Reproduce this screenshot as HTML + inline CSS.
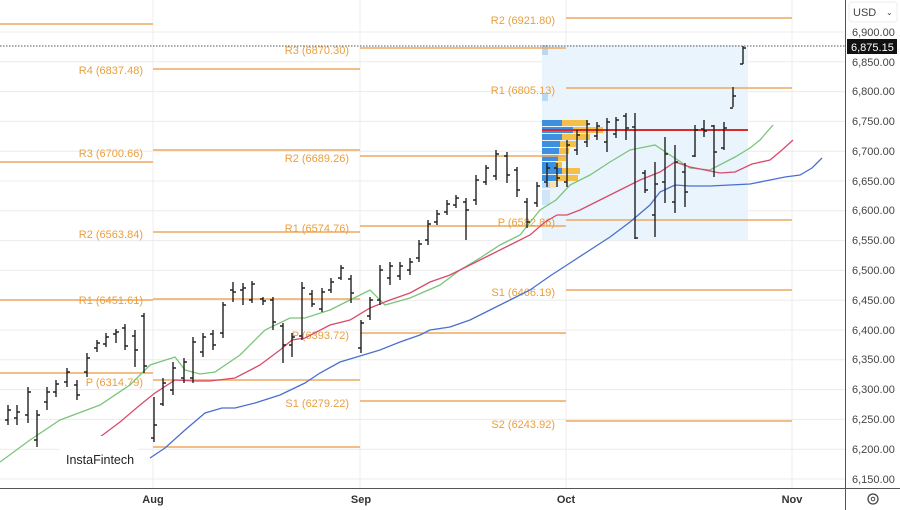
<!DOCTYPE html>
<html><head><meta charset="utf-8"><style>
html,body{margin:0;padding:0;background:#fff;}
svg{display:block;font-family:"Liberation Sans",sans-serif;}
.pl{fill:#e8a040;font-size:11px;text-anchor:end;}
.ax{fill:#444;font-size:11px;}
</style></head><body>
<svg width="900" height="510" viewBox="0 0 900 510" xmlns="http://www.w3.org/2000/svg">
<rect width="900" height="510" fill="#fff"/>
<g stroke="#ececec" stroke-width="1">
<line x1="0" y1="32" x2="845" y2="32"/><line x1="0" y1="61.8" x2="845" y2="61.8"/><line x1="0" y1="91.6" x2="845" y2="91.6"/><line x1="0" y1="121.4" x2="845" y2="121.4"/><line x1="0" y1="151.2" x2="845" y2="151.2"/><line x1="0" y1="181" x2="845" y2="181"/><line x1="0" y1="210.8" x2="845" y2="210.8"/><line x1="0" y1="240.6" x2="845" y2="240.6"/><line x1="0" y1="270.4" x2="845" y2="270.4"/><line x1="0" y1="300.2" x2="845" y2="300.2"/><line x1="0" y1="330" x2="845" y2="330"/><line x1="0" y1="359.8" x2="845" y2="359.8"/><line x1="0" y1="389.6" x2="845" y2="389.6"/><line x1="0" y1="419.4" x2="845" y2="419.4"/><line x1="0" y1="449.2" x2="845" y2="449.2"/><line x1="0" y1="479" x2="845" y2="479"/>
<line x1="153" y1="0" x2="153" y2="488"/><line x1="360" y1="0" x2="360" y2="488"/><line x1="566" y1="0" x2="566" y2="488"/><line x1="792" y1="0" x2="792" y2="488"/>
</g>
<rect x="542" y="45" width="206" height="195" fill="#eaf4fd"/>
<!-- volume profile -->
<g>
<rect x="542" y="120" width="20" height="6" fill="#3d8fe0"/><rect x="562" y="120" width="26" height="6" fill="#f5c04a"/>
<rect x="542" y="127" width="31" height="6" fill="#3d8fe0"/><rect x="573" y="127" width="30" height="6" fill="#f5c04a"/>
<rect x="542" y="134" width="20" height="6" fill="#3d8fe0"/><rect x="562" y="134" width="28" height="6" fill="#f5c04a"/>
<rect x="542" y="141" width="18" height="6" fill="#3d8fe0"/><rect x="560" y="141" width="16" height="6" fill="#f5c04a"/>
<rect x="542" y="148" width="17" height="6" fill="#3d8fe0"/><rect x="559" y="148" width="10" height="6" fill="#f5c04a"/>
<rect x="542" y="155" width="16" height="6" fill="#3d8fe0"/><rect x="558" y="155" width="8" height="6" fill="#f5c04a"/>
<rect x="542" y="162" width="14" height="6" fill="#3d8fe0"/><rect x="556" y="162" width="6" height="6" fill="#f5c04a"/>
<rect x="542" y="168" width="20" height="6" fill="#3d8fe0"/><rect x="562" y="168" width="18" height="6" fill="#f5c04a"/>
<rect x="542" y="175" width="14" height="6" fill="#3d8fe0"/><rect x="556" y="175" width="22" height="6" fill="#f5c04a"/>
<rect x="542" y="182" width="8" height="6" fill="#b8d8f5"/><rect x="550" y="182" width="6" height="6" fill="#fbe3a8"/>
<rect x="542" y="45" width="6" height="10" fill="#b8d8f5"/><rect x="542" y="93" width="6" height="8" fill="#b8d8f5"/>
<rect x="542" y="190" width="8" height="15" fill="#cfe5f9"/>
</g>
<!-- pivot lines -->
<g stroke="#eea860" stroke-width="1.5">
<line x1="0" y1="24" x2="153" y2="24"/><line x1="0" y1="162" x2="153" y2="162"/><line x1="0" y1="300" x2="153" y2="300"/><line x1="0" y1="373" x2="153" y2="373"/>
<line x1="153" y1="69" x2="360" y2="69"/><line x1="153" y1="150" x2="360" y2="150"/><line x1="153" y1="232" x2="360" y2="232"/><line x1="153" y1="299" x2="360" y2="299"/><line x1="153" y1="380" x2="360" y2="380"/><line x1="153" y1="447" x2="360" y2="447"/>
<line x1="360" y1="48" x2="566" y2="48"/><line x1="360" y1="156" x2="566" y2="156"/><line x1="360" y1="226" x2="566" y2="226"/><line x1="360" y1="333" x2="566" y2="333"/><line x1="360" y1="401" x2="566" y2="401"/>
<line x1="566" y1="18" x2="792" y2="18"/><line x1="566" y1="88" x2="792" y2="88"/><line x1="566" y1="220" x2="792" y2="220"/><line x1="566" y1="290" x2="792" y2="290"/><line x1="566" y1="421" x2="792" y2="421"/>
</g>
<g class="pl">
<text x="143" y="74">R4 (6837.48)</text><text x="143" y="157">R3 (6700.66)</text><text x="143" y="238">R2 (6563.84)</text><text x="143" y="304">R1 (6451.61)</text><text x="143" y="386">P (6314.79)</text>
<text x="349" y="54">R3 (6870.30)</text><text x="349" y="162">R2 (6689.26)</text><text x="349" y="232">R1 (6574.76)</text><text x="349" y="339">P (6393.72)</text><text x="349" y="407">S1 (6279.22)</text>
<text x="555" y="24">R2 (6921.80)</text><text x="555" y="94">R1 (6805.13)</text><text x="555" y="226">P (6582.86)</text><text x="555" y="296">S1 (6466.19)</text><text x="555" y="428">S2 (6243.92)</text>
</g>
<line x1="542" y1="130" x2="748" y2="130" stroke="#e02828" stroke-width="2"/>
<line x1="0" y1="46" x2="845" y2="46" stroke="#555" stroke-width="1" stroke-dasharray="1.5,1.5"/>
<!-- MAs -->
<polyline fill="none" stroke="#7cc47c" stroke-width="1.3" points="0,462 30,440 60,420 100,405 130,385 150,365 175,357 185,370 200,374 215,372 240,355 265,330 290,318 305,318 330,310 350,300 370,290 385,305 410,298 440,285 460,270 480,258 500,245 520,235 540,210 556,200 570,185 590,175 610,162 630,150 655,145 670,155 690,168 710,170 735,157 750,148 760,140 773,125"/>
<polyline fill="none" stroke="#d94a6a" stroke-width="1.3" points="100,437 120,422 140,405 155,393 175,380 195,381 210,381 235,378 260,365 280,350 292,340 305,338 330,325 350,320 370,308 390,300 410,293 430,282 450,275 470,265 490,255 510,245 530,235 545,222 557,215 567,215 580,210 600,200 620,190 640,180 660,172 675,162 690,167 705,170 720,173 735,172 752,164 770,160 782,150 793,140"/>
<polyline fill="none" stroke="#4a6fd0" stroke-width="1.3" points="150,458 165,448 185,430 205,413 222,408 235,408 255,403 280,395 305,383 320,373 340,362 360,356 380,350 400,342 420,335 430,330 450,327 470,320 490,310 510,300 530,290 550,276 570,263 590,250 610,237 630,222 650,205 660,192 675,185 690,186 710,186 730,185 750,184 770,180 785,177 800,175 812,168 822,158"/>
<!-- bars -->
<g stroke="#222" stroke-width="1.4" fill="none">
<path d="M8 405V425M5 420H8M8 410H11"/><path d="M17 405V425M14 418H17M17 412H20"/><path d="M28 387V423M25 415H28M28 392H31"/><path d="M37 410V447M34 440H37M37 415H40"/><path d="M47 387V410M44 402H47M47 392H50"/><path d="M56 380V397M53 392H56M56 384H59"/><path d="M67 368V387M64 382H67M67 372H70"/><path d="M77 380V400M74 385H77M77 395H80"/><path d="M87 353V377M84 372H87M87 358H90"/><path d="M97 340V352M94 348H97M97 343H100"/><path d="M106 333V347M103 344H106M106 337H109"/><path d="M116 329V343M113 334H116M116 332H119"/><path d="M125 324V350M122 328H125M125 346H128"/><path d="M135 330V367M132 336H135M135 350H138"/><path d="M144 313V373M141 316H144M144 366H147"/>
<path d="M154 397V442M151 438H154M154 425H157"/><path d="M163 378V406M160 404H163M163 383H166"/><path d="M173 362V395M170 390H173M173 368H176"/><path d="M184 358V383M181 378H184M184 362H187"/><path d="M193 337V383M190 378H193M193 342H196"/><path d="M203 333V357M200 352H203M203 337H206"/><path d="M213 330V350M210 334H213M213 345H216"/><path d="M223 302V338M220 333H223M223 305H226"/><path d="M233 282V302M230 290H233M233 292H236"/><path d="M243 283V305M240 290H243M243 288H246"/><path d="M252 281V303M249 300H252M252 284H255"/><path d="M263 297V305M260 299H263M263 301H266"/><path d="M273 297V330M270 300H273M273 322H276"/><path d="M283 323V363M280 326H283M283 345H286"/><path d="M292 333V357M289 345H292M292 337H295"/><path d="M302 282V340M299 336H302M302 288H305"/><path d="M312 290V307M309 294H312M312 304H315"/><path d="M322 288V312M319 309H322M322 292H325"/><path d="M331 278V293M328 290H331M331 282H334"/><path d="M341 265V280M338 278H341M341 268H344"/><path d="M351 275V303M348 279H351M351 293H354"/><path d="M361 320V353M358 348H361M361 323H364"/><path d="M370 297V320M367 316H370M370 300H373"/>
<path d="M380 265V305M377 300H380M380 270H383"/><path d="M390 262V285M387 278H390M390 266H393"/><path d="M400 262V280M397 276H400M400 266H403"/><path d="M410 258V275M407 270H410M410 262H413"/><path d="M419 240V262M416 258H419M419 244H422"/><path d="M428 220V245M425 240H428M428 224H431"/><path d="M437 210V225M434 222H437M437 214H440"/><path d="M447 200V215M444 212H447M447 204H450"/><path d="M456 195V208M453 205H456M456 198H459"/><path d="M466 198V240M463 202H466M466 210H469"/><path d="M476 175V205M473 200H476M476 180H479"/><path d="M486 165V185M483 182H486M486 168H489"/><path d="M496 150V180M493 176H496M496 154H499"/><path d="M507 152V183M504 156H507M507 175H510"/><path d="M517 167V197M514 170H517M517 190H520"/><path d="M527 198V228M524 202H527M527 222H530"/><path d="M537 182V207M534 203H537M537 186H540"/><path d="M547 163V187M544 182H547M547 168H550"/><path d="M557 163V187M554 168H557M557 178H560"/><path d="M567 140V187M564 182H567M567 145H570"/><path d="M577 130V155M574 150H577M577 135H580"/><path d="M587 120V147M584 142H587M587 124H590"/><path d="M597 122V140M594 136H597M597 126H600"/><path d="M607 118V152M604 142H607M607 122H610"/><path d="M616 117V138M613 134H616M616 120H619"/><path d="M626 113V140M623 116H626M626 128H629"/><path d="M635 113V239M632 127H635M635 238H638"/><path d="M645 170V193M642 173H645M645 190H648"/><path d="M655 162V237M652 215H655M655 184H658"/><path d="M665 137V203M662 182H665M665 154H668"/><path d="M675 145V213M672 202H675M675 162H678"/><path d="M685 163V207M682 172H685M685 192H688"/><path d="M695 125V157M692 156H695M695 130H698"/><path d="M704 120V137M701 129H704M704 131H707"/><path d="M714 125V177M711 126H714M714 152H717"/><path d="M724 122V150M721 148H724M724 128H727"/><path d="M733 87V107M730 108H733M733 96H736"/><path d="M743 46V64M740 64H743M743 48H746"/>
</g>
<!-- watermark -->
<rect x="60" y="436" width="78" height="42" fill="#fff"/>
<text x="66" y="464" font-size="12.5" fill="#222">InstaFintech</text>
<!-- axes -->
<rect x="845" y="0" width="55" height="510" fill="#fff"/>
<line x1="845.5" y1="0" x2="845.5" y2="510" stroke="#555"/>
<rect x="0" y="488" width="845" height="22" fill="#fff"/>
<line x1="0" y1="488.5" x2="900" y2="488.5" stroke="#555"/>
<rect x="849" y="2" width="48" height="20" rx="3" fill="#fff" stroke="#ececec"/>
<text x="853" y="16" class="ax" fill="#222">USD</text><text x="886" y="15" font-size="8" fill="#444">⌄</text>
<g class="ax">
<text x="852" y="36">6,900.00</text><text x="852" y="66">6,850.00</text><text x="852" y="95">6,800.00</text><text x="852" y="125">6,750.00</text><text x="852" y="155">6,700.00</text><text x="852" y="185">6,650.00</text><text x="852" y="214">6,600.00</text><text x="852" y="244">6,550.00</text><text x="852" y="274">6,500.00</text><text x="852" y="304">6,450.00</text><text x="852" y="334">6,400.00</text><text x="852" y="363">6,350.00</text><text x="852" y="393">6,300.00</text><text x="852" y="423">6,250.00</text><text x="852" y="453">6,200.00</text><text x="852" y="483">6,150.00</text>
</g>
<rect x="847" y="39" width="50" height="15" fill="#111"/>
<text x="851" y="51" font-size="11" fill="#fff">6,875.15</text>
<g font-size="11" font-weight="bold" fill="#333" text-anchor="middle">
<text x="153" y="503">Aug</text><text x="361" y="503">Sep</text><text x="566" y="503">Oct</text><text x="792" y="503">Nov</text>
</g>
<circle cx="873" cy="499" r="5" fill="none" stroke="#444" stroke-width="1.3"/><circle cx="873" cy="499" r="1.8" fill="none" stroke="#444"/>
</svg>
</body></html>
